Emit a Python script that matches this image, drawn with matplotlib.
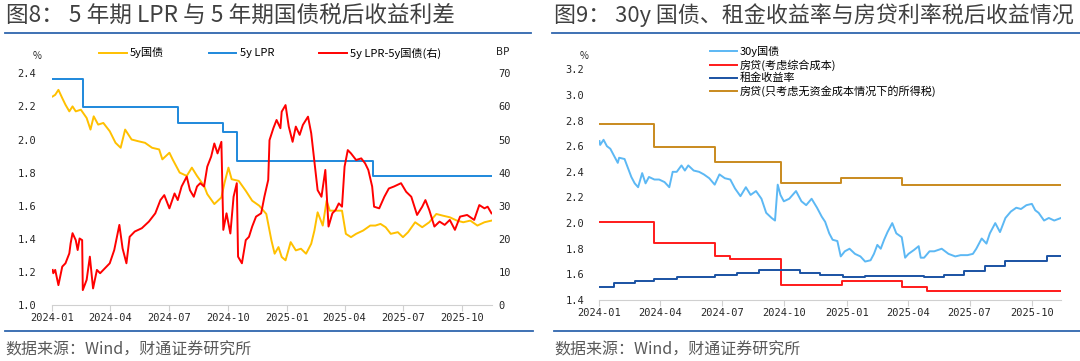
import pandas as pd
import matplotlib.pyplot as plt
import matplotlib.dates as mdates
from matplotlib.lines import Line2D

plt.rcParams['font.family'] = ['Noto Sans CJK SC', 'DejaVu Sans']

# ---------- 图8 data ----------
lpr_dates = ['2024-01-01', '2024-02-18', '2024-07-15', '2024-09-24', '2024-10-16',
             '2025-05-16', '2025-11-16']
lpr_vals = [2.366, 2.195, 2.10, 2.045, 1.872, 1.781, 1.781]

gov5_dates = ['2024-01-02', '2024-01-06', '2024-01-11', '2024-01-17', '2024-01-22', '2024-01-28',
              '2024-02-02', '2024-02-07', '2024-02-15', '2024-02-24', '2024-03-01', '2024-03-06',
              '2024-03-13', '2024-03-21', '2024-03-31', '2024-04-09', '2024-04-17', '2024-04-24',
              '2024-05-04', '2024-05-14', '2024-05-25', '2024-06-05', '2024-06-16', '2024-06-21',
              '2024-07-02', '2024-07-07', '2024-07-18', '2024-07-29', '2024-08-06', '2024-08-14',
              '2024-08-25', '2024-08-30', '2024-09-10', '2024-09-21', '2024-09-26', '2024-10-02',
              '2024-10-07', '2024-10-18', '2024-10-29', '2024-11-08', '2024-11-19', '2024-11-30',
              '2024-12-08', '2024-12-13', '2024-12-19', '2024-12-24', '2024-12-30', '2025-01-07',
              '2025-01-15', '2025-01-23', '2025-01-31', '2025-02-08', '2025-02-13', '2025-02-18',
              '2025-02-26', '2025-03-04', '2025-03-09', '2025-03-20', '2025-03-28', '2025-04-03',
              '2025-04-11', '2025-04-19', '2025-04-30', '2025-05-11', '2025-05-19', '2025-05-27',
              '2025-06-04', '2025-06-12', '2025-06-23', '2025-07-01', '2025-07-09', '2025-07-20',
              '2025-07-31', '2025-08-11', '2025-08-22', '2025-09-01', '2025-09-12', '2025-09-23',
              '2025-10-03', '2025-10-14', '2025-10-25', '2025-11-05', '2025-11-16']
gov5_vals = [2.26, 2.27, 2.30, 2.25, 2.21, 2.17, 2.20, 2.17, 2.18, 2.13, 2.06, 2.14,
             2.09, 2.10, 2.05, 1.98, 1.95, 2.06, 2.00, 1.99, 1.98, 1.95, 1.94, 1.88,
             1.92, 1.88, 1.80, 1.78, 1.83, 1.78, 1.72, 1.67, 1.61, 1.65, 1.74, 1.83,
             1.76, 1.75, 1.69, 1.63, 1.60, 1.55, 1.39, 1.31, 1.35, 1.29, 1.27, 1.38,
             1.33, 1.34, 1.31, 1.37, 1.45, 1.56, 1.48, 1.63, 1.57, 1.57, 1.57, 1.43,
             1.41, 1.43, 1.45, 1.48, 1.48, 1.49, 1.47, 1.43, 1.44, 1.41, 1.44, 1.50,
             1.47, 1.50, 1.55, 1.54, 1.53, 1.51, 1.50, 1.51, 1.48, 1.50, 1.51]

spread_dates = ['2024-01-02', '2024-01-03', '2024-01-06', '2024-01-11', '2024-01-17', '2024-01-22',
                '2024-01-28', '2024-01-30', '2024-02-02', '2024-02-07', '2024-02-10', '2024-02-13',
                '2024-02-17', '2024-02-18', '2024-02-24', '2024-02-29', '2024-03-05', '2024-03-11',
                '2024-03-16', '2024-03-21', '2024-03-31', '2024-04-07', '2024-04-15', '2024-04-20',
                '2024-04-26', '2024-05-01', '2024-05-09', '2024-05-20', '2024-05-31', '2024-06-10',
                '2024-06-18', '2024-06-24', '2024-07-02', '2024-07-10', '2024-07-15', '2024-07-21',
                '2024-07-29', '2024-08-03', '2024-08-09', '2024-08-14', '2024-08-19', '2024-08-25',
                '2024-08-30', '2024-09-05', '2024-09-10', '2024-09-15', '2024-09-21', '2024-09-24',
                '2024-09-29', '2024-10-05', '2024-10-10', '2024-10-15', '2024-10-17', '2024-10-23',
                '2024-10-29', '2024-11-03', '2024-11-08', '2024-11-14', '2024-11-22', '2024-11-27',
                '2024-12-03', '2024-12-05', '2024-12-11', '2024-12-16', '2024-12-22', '2024-12-24',
                '2024-12-30', '2025-01-04', '2025-01-10', '2025-01-15', '2025-01-21', '2025-01-26',
                '2025-02-03', '2025-02-08', '2025-02-13', '2025-02-18', '2025-02-24', '2025-03-02',
                '2025-03-07', '2025-03-13', '2025-03-18', '2025-03-23', '2025-03-28', '2025-04-01',
                '2025-04-06', '2025-04-11', '2025-04-19', '2025-04-27', '2025-05-03', '2025-05-08',
                '2025-05-14', '2025-05-17', '2025-05-25', '2025-06-02', '2025-06-09', '2025-06-17',
                '2025-06-28', '2025-07-06', '2025-07-14', '2025-07-23', '2025-07-31', '2025-08-05',
                '2025-08-11', '2025-08-19', '2025-08-27', '2025-09-04', '2025-09-12', '2025-09-20',
                '2025-09-28', '2025-10-09', '2025-10-20', '2025-10-28', '2025-11-05', '2025-11-10',
                '2025-11-16']
spread_vals = [10.6, 9.6, 10.6, 6.0, 11.6, 12.6, 15.6, 18.6, 21.7, 19.6, 16.6, 20.1,
               19.6, 4.5, 7.6, 14.6, 5.0, 10.6, 9.6, 10.6, 12.6, 16.6, 24.2, 17.1,
               12.6, 20.6, 22.2, 23.2, 25.2, 27.7, 31.7, 33.2, 29.2, 33.7, 31.7, 35.8,
               38.8, 34.7, 32.7, 35.8, 36.8, 35.8, 41.8, 44.8, 48.8, 45.8, 49.3, 22.7,
               27.7, 21.6, 32.7, 36.8, 14.6, 12.6, 19.6, 20.6, 23.7, 26.7, 27.7, 32.7,
               37.8, 49.8, 53.4, 55.9, 53.4, 58.4, 60.4, 53.9, 49.3, 53.9, 51.4, 54.4,
               56.9, 51.9, 43.3, 34.7, 32.7, 40.8, 23.7, 27.7, 28.7, 30.7, 29.7, 41.8,
               46.8, 45.8, 43.8, 44.3, 42.8, 40.8, 35.8, 29.7, 29.2, 32.7, 35.2, 35.8,
               36.8, 34.2, 32.7, 27.2, 29.7, 31.7, 28.7, 23.7, 25.2, 24.2, 25.7, 22.7,
               26.7, 27.2, 25.7, 30.2, 29.2, 29.7, 27.7]

# ---------- 图9 data ----------
gov30_dates = ['2024-01-02', '2024-01-03', '2024-01-08', '2024-01-13', '2024-01-18', '2024-01-24',
               '2024-01-29', '2024-01-31', '2024-02-08', '2024-02-13', '2024-02-18', '2024-02-23',
               '2024-02-28', '2024-03-05', '2024-03-10', '2024-03-15', '2024-03-23', '2024-03-30',
               '2024-04-07', '2024-04-14', '2024-04-19', '2024-04-25', '2024-05-02', '2024-05-07',
               '2024-05-12', '2024-05-20', '2024-05-28', '2024-06-04', '2024-06-12', '2024-06-20',
               '2024-06-27', '2024-07-05', '2024-07-13', '2024-07-20', '2024-07-28', '2024-08-05',
               '2024-08-12', '2024-08-20', '2024-08-28', '2024-09-04', '2024-09-12', '2024-09-17',
               '2024-09-21', '2024-09-25', '2024-09-30', '2024-10-08', '2024-10-18', '2024-10-26',
               '2024-11-02', '2024-11-10', '2024-11-18', '2024-11-25', '2024-11-30', '2024-12-06',
               '2024-12-11', '2024-12-18', '2024-12-23', '2024-12-29', '2025-01-05', '2025-01-13',
               '2025-01-21', '2025-01-28', '2025-02-05', '2025-02-10', '2025-02-15', '2025-02-20',
               '2025-02-25', '2025-03-02', '2025-03-09', '2025-03-15', '2025-03-23', '2025-03-28',
               '2025-04-02', '2025-04-10', '2025-04-17', '2025-04-20', '2025-04-25', '2025-05-03',
               '2025-05-10', '2025-05-21', '2025-05-31', '2025-06-10', '2025-06-18', '2025-06-28',
               '2025-07-06', '2025-07-11', '2025-07-19', '2025-07-26', '2025-07-31', '2025-08-08',
               '2025-08-15', '2025-08-23', '2025-08-31', '2025-09-08', '2025-09-15', '2025-09-23',
               '2025-10-01', '2025-10-06', '2025-10-11', '2025-10-19', '2025-10-26', '2025-11-03',
               '2025-11-13']
gov30_vals = [2.64, 2.61, 2.65, 2.60, 2.58, 2.52, 2.47, 2.51, 2.50, 2.43, 2.36, 2.31,
              2.28, 2.39, 2.31, 2.36, 2.34, 2.34, 2.32, 2.28, 2.40, 2.40, 2.45, 2.41,
              2.45, 2.41, 2.40, 2.38, 2.35, 2.30, 2.38, 2.35, 2.34, 2.27, 2.21, 2.28,
              2.22, 2.25, 2.19, 2.08, 2.04, 2.02, 2.30, 2.22, 2.17, 2.19, 2.25, 2.17,
              2.14, 2.19, 2.12, 2.05, 2.01, 1.92, 1.87, 1.86, 1.74, 1.78, 1.80, 1.76,
              1.74, 1.70, 1.71, 1.76, 1.83, 1.80, 1.87, 1.93, 2.00, 1.92, 1.89, 1.73,
              1.76, 1.79, 1.82, 1.73, 1.73, 1.78, 1.78, 1.80, 1.76, 1.74, 1.75, 1.75,
              1.76, 1.80, 1.88, 1.84, 1.92, 2.00, 1.93, 2.04, 2.09, 2.12, 2.11, 2.14,
              2.15, 2.10, 2.08, 2.02, 2.04, 2.02, 2.04]

mort_full_dates = ['2024-01-01', '2024-03-22', '2024-06-21', '2024-07-13', '2024-09-26',
                   '2024-12-25', '2025-03-24', '2025-04-29', '2025-11-13']
mort_full_vals = [2.01, 1.845, 1.745, 1.72, 1.52, 1.548, 1.50, 1.473, 1.473]

rent_dates = ['2024-01-01', '2024-01-24', '2024-02-23', '2024-03-22', '2024-04-25', '2024-06-21',
              '2024-07-23', '2024-08-25', '2024-10-24', '2024-11-22', '2024-12-26', '2025-01-28',
              '2025-04-25', '2025-05-24', '2025-06-23', '2025-07-24', '2025-08-23', '2025-10-24',
              '2025-11-13']
rent_vals = [1.504, 1.532, 1.548, 1.565, 1.576, 1.596, 1.613, 1.634, 1.613, 1.595, 1.577, 1.587,
             1.577, 1.595, 1.626, 1.665, 1.704, 1.740, 1.740]

mort_tax_dates = ['2024-01-01', '2024-03-22', '2024-06-21', '2024-09-26', '2024-12-23',
                  '2025-03-24', '2025-11-13']
mort_tax_vals = [2.77, 2.59, 2.48, 2.315, 2.35, 2.297, 2.297]

W, H = 1080, 361
fig = plt.figure(figsize=(W / 100, H / 100), dpi=100)

title_c = '#404040'
rule_c = '#2F66AE'
tick_font = {'family': 'DejaVu Sans Mono', 'size': 7.5}


def fx(px):
    return px / W


def fy(py):
    return 1 - py / H


def style_axis(ax, ypad):
    for s in ['top', 'left', 'right']:
        ax.spines[s].set_visible(False)
    ax.spines['bottom'].set_color('#D0D0D0')
    ax.xaxis.set_major_locator(mdates.MonthLocator(bymonth=[1, 4, 7, 10]))
    ax.xaxis.set_major_formatter(mdates.DateFormatter('%Y-%m'))
    ax.tick_params(axis='x', length=4, color='#D0D0D0', pad=2, labelcolor='#262626')
    ax.tick_params(axis='y', length=0, pad=ypad, labelcolor='#262626')
    for lb in ax.get_xticklabels() + ax.get_yticklabels():
        lb.set_fontfamily(tick_font['family'])
        lb.set_fontsize(tick_font['size'])


# titles and rules
fig.text(fx(6), fy(15), '图8： 5 年期 LPR 与 5 年期国债税后收益利差', fontsize=16.3,
         color=title_c, va='center', ha='left')
fig.text(fx(554), fy(15), '图9： 30y 国债、租金收益率与房贷利率税后收益情况', fontsize=15.8,
         color=title_c, va='center', ha='left')
for x0, x1 in [(5, 531), (552, 1080)]:
    fig.add_artist(Line2D([fx(x0), fx(x1)], [fy(33)] * 2, color=rule_c, lw=1.3))
for x0, x1 in [(5, 533), (554, 1080)]:
    fig.add_artist(Line2D([fx(x0), fx(x1)], [fy(331)] * 2, color=rule_c, lw=1.3))
fig.text(fx(5), fy(350), '数据来源：Wind，财通证券研究所', fontsize=11.5, color='#595959',
         va='center', ha='left')
fig.text(fx(554), fy(350), '数据来源：Wind，财通证券研究所', fontsize=11.5, color='#595959',
         va='center', ha='left')

# ---------- left chart ----------
ax1 = fig.add_axes([fx(52), 1 - 305 / H, (491.5 - 52) / W, (305 - 73.3) / H])
ax1.plot(pd.to_datetime(gov5_dates), gov5_vals, color='#FFC000', lw=1.4, label='5y国债')
ax1.plot(pd.to_datetime(lpr_dates), lpr_vals, color='#1E88DC', lw=1.4,
         drawstyle='steps-post', label='5y LPR')
ax1.set_ylim(1.0, 2.4)
ax1.set_yticks([1.0, 1.2, 1.4, 1.6, 1.8, 2.0, 2.2, 2.4])
ax1.yaxis.set_major_formatter(plt.FormatStrFormatter('%.1f'))
ax1.set_xlim(pd.Timestamp('2024-01-01'), pd.Timestamp('2025-11-16'))
ax1.patch.set_alpha(0)
style_axis(ax1, 11.5)

ax1r = ax1.twinx()
ax1r.plot(pd.to_datetime(spread_dates), spread_vals, color='#FF0000', lw=1.4,
          label='5y LPR-5y国债(右)')
ax1r.set_ylim(0, 70)
ax1r.set_yticks(range(0, 71, 10))
for s in ['top', 'left', 'right', 'bottom']:
    ax1r.spines[s].set_visible(False)
ax1r.tick_params(axis='y', length=0, pad=5, labelcolor='#262626')
for lb in ax1r.get_yticklabels():
    lb.set_fontfamily(tick_font['family'])
    lb.set_fontsize(tick_font['size'])

fig.text(fx(37), fy(56), '%', fontsize=7, color='#262626', ha='center', va='center')
fig.text(fx(503), fy(52), 'BP', fontsize=7.5, color='#262626', ha='center', va='center',
         family='DejaVu Sans')

h1 = ax1.get_lines() + ax1r.get_lines()
fig.legend(handles=h1, labels=[h.get_label() for h in h1], loc='center left',
           bbox_to_anchor=(fx(99), fy(53)), ncol=3, frameon=False, fontsize=8,
           borderpad=0, borderaxespad=0, handlelength=2.5, handletextpad=0.3,
           columnspacing=4.0)

# ---------- right chart ----------
ax2 = fig.add_axes([fx(598.8), 1 - 300 / H, (1061 - 598.8) / W, (300 - 69.3) / H])
ax2.plot(pd.to_datetime(gov30_dates), gov30_vals, color='#5CB8F4', lw=1.4, label='30y国债')
ax2.plot(pd.to_datetime(mort_full_dates), mort_full_vals, color='#FF1A1A', lw=1.4,
         drawstyle='steps-post', label='房贷(考虑综合成本)')
ax2.plot(pd.to_datetime(rent_dates), rent_vals, color='#1A52A3', lw=1.4,
         drawstyle='steps-post', label='租金收益率')
ax2.plot(pd.to_datetime(mort_tax_dates), mort_tax_vals, color='#C98A1E', lw=1.4,
         drawstyle='steps-post', label='房贷(只考虑无资金成本情况下的所得税)')
ax2.set_ylim(1.4, 3.2)
ax2.set_yticks([1.4, 1.6, 1.8, 2.0, 2.2, 2.4, 2.6, 2.8, 3.0, 3.2])
ax2.yaxis.set_major_formatter(plt.FormatStrFormatter('%.1f'))
ax2.set_xlim(pd.Timestamp('2024-01-01'), pd.Timestamp('2025-11-13'))
style_axis(ax2, 10.5)

fig.text(fx(584), fy(56), '%', fontsize=7, color='#262626', ha='center', va='center')
ax2.legend(loc='upper left', bbox_to_anchor=(fx(710), fy(46)),
           bbox_transform=fig.transFigure, frameon=False, fontsize=8,
           borderpad=0, borderaxespad=0, handlelength=2.4, handletextpad=0.3,
           labelspacing=0.2)

fig.savefig('out.png', dpi=100)
